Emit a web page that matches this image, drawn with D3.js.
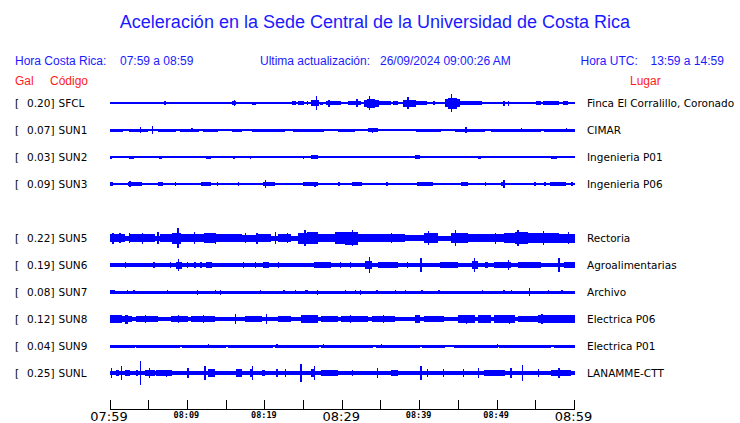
<!DOCTYPE html>
<html><head><meta charset="utf-8">
<script src="https://cdn.jsdelivr.net/npm/d3@7"></script>
<style>body{margin:0;background:#fff}svg{display:block}</style>
</head><body>
<script>
// ---------- DATA ----------
const stations = ["SFCL","SUN1","SUN2","SUN3","SUN5","SUN6","SUN7","SUN8","SUN9","SUNL"];
const rowSlots = ["SFCL","SUN1","SUN2","SUN3","gap","SUN5","SUN6","SUN7","SUN8","SUN9","SUNL"];
const pga = ["0.20","0.07","0.03","0.09","0.22","0.19","0.08","0.12","0.04","0.25"];
const places = ["Finca El Corralillo, Coronado","CIMAR","Ingenieria P01","Ingenieria P06","Rectoria","Agroalimentarias","Archivo","Electrica P06","Electrica P01","LANAMME-CTT"];
// baseline noise half-amplitude (relative units) per station
const baseAmp = [0.7,0.8,0.6,1.3,2.5,1.6,1.5,2.3,0.6,2.0];
// events: [start minute, end minute, half-amplitude]
const sfcl = [[0,0.2,1.3],[3.6,3.6,1.3],[7.0,7.2,1.7],[8.2,8.2,1.0],[9.3,9.3,1.0],[15.7,16.3,2.3],[16.0,16.1,2.8],[18.4,18.8,1.5],[21.7,21.7,1.0],[22.9,22.9,1.2],[23.5,24.0,1.6],[24.3,25.0,1.6],[25.4,25.4,2.2],[26.0,27.0,3.0],[26.6,26.7,7.0],[27.1,27.5,1.5],[27.9,29.9,2.0],[28.2,28.3,3.5],[30.8,32.4,2.0],[31.8,32.0,4.0],[32.8,34.8,3.5],[33.2,34.2,4.5],[33.4,33.5,6.7],[34.8,36.3,1.6],[36.6,37.2,2.3],[37.8,39.5,3.5],[38.4,38.5,6.3],[39.5,41.0,2.0],[41.7,42.0,1.6],[43.3,45.2,4.0],[43.6,44.8,5.5],[44.0,44.2,9.0],[45.2,48.0,1.6],[49.3,49.3,1.2],[50.6,51.6,1.4],[50.8,50.8,2.5],[51.4,51.4,2.5],[52.4,52.4,1.2],[55.0,55.7,2.0],[55.9,58.0,1.6],[58.5,59.2,2.0]];
const sun1 = [[0,1.7,1.5],[2.4,4.9,1.5],[3.9,3.9,2.7],[5.4,5.5,3.7],[6.2,8.5,1.5],[9.0,11.5,1.5],[12.0,14.0,1.5],[10.5,10.5,2.2],[15.7,17.0,1.5],[18.3,22.6,1.5],[23.7,27.7,1.5],[29.5,31.6,1.5],[33.3,34.6,1.6],[33.8,33.8,2.5],[37.6,39.0,1.4],[39.5,42.8,1.5],[44.5,48.4,1.5],[45.9,45.9,2.7],[49.2,55.7,1.5],[53.1,53.1,2.2],[56.1,60,1.5],[58.9,58.9,2.2]];
const sun2 = [[0,0.2,1.5],[1.1,1.1,1.2],[2.5,3.1,1.5],[4.5,4.5,1.2],[5.6,5.8,1.3],[6.3,6.7,1.5],[9.2,9.2,1.2],[10.5,10.5,1.2],[11.8,12.1,1.3],[12.4,13.0,1.5],[15.9,16.1,1.5],[16.6,17.0,1.3],[18.1,18.1,1.5],[19.7,20.0,1.3],[20.5,21.3,1.3],[24.9,24.9,1.5],[26.0,26.9,1.6],[28.6,28.6,1.2],[31.4,31.4,1.2],[35.0,35.0,1.0],[38.6,38.6,1.2],[39.4,40.0,1.6],[44.4,44.4,1.2],[45.7,45.7,1.3],[46.7,46.7,1.2],[47.5,47.9,1.5],[48.5,49.0,1.3],[49.6,50.1,1.3],[51.9,51.9,1.2],[53.3,53.3,1.2],[54.6,54.6,1.2],[56.1,56.3,1.3],[56.9,57.8,1.5],[58.4,58.4,1.2]];
const sun3 = [[0,0.4,2.3],[2.3,4.1,2.0],[2.5,2.5,3.3],[6.2,6.9,2.3],[8.4,8.4,2.0],[11.8,13.1,2.0],[13.8,13.8,2.0],[16.5,16.5,2.0],[19.8,21.3,2.0],[20.0,20.1,3.7],[24.9,26.9,2.0],[26.4,26.5,2.5],[29.5,29.5,2.0],[31.2,32.5,2.0],[35.7,35.7,2.0],[39.6,41.7,2.0],[40.1,40.4,2.4],[45.4,46.2,2.3],[48.4,48.4,2.0],[50.5,51.0,2.2],[50.8,50.8,4.0],[54.8,54.8,2.0],[56.1,56.1,2.0],[56.8,58.9,2.3],[59.6,59.6,2.0]];
const sun5 = [[0,1.9,4.0],[0.3,0.3,5.5],[1.2,1.2,5.0],[2.6,4.0,3.6],[2.4,2.4,5.0],[4.0,5.8,3.9],[4.1,4.1,5.5],[6.1,6.1,6.0],[6.5,8.0,3.8],[8.0,9.2,5.5],[8.7,8.8,9.7],[9.2,10.5,4.3],[10.5,12.2,3.9],[10.8,10.8,6.0],[12.2,13.5,5.0],[13.5,13.5,5.5],[13.5,15.5,3.7],[15.5,17.0,4.2],[17.4,17.4,5.0],[17.0,19.0,3.5],[18.9,18.9,5.5],[19.0,20.8,4.0],[21.3,21.3,6.0],[21.7,23.4,4.0],[22.8,22.8,5.0],[24.3,25.5,5.5],[25.1,25.2,8.0],[25.5,26.9,6.0],[26.9,29.0,4.3],[29.0,30.4,5.8],[30.4,32.0,6.5],[31.2,31.3,8.0],[32.0,34.0,3.7],[34.0,36.0,4.2],[36.3,36.3,5.0],[36.0,38.1,3.6],[38.1,40.6,3.3],[40.6,42.4,5.0],[41.1,41.1,6.7],[42.4,44.1,2.3],[44.1,46.2,4.6],[44.5,44.6,7.7],[46.2,48.5,4.3],[48.5,50.9,3.8],[49.7,49.7,5.5],[50.9,52.3,4.8],[52.3,54.0,5.7],[52.6,52.7,7.7],[54.0,56.0,4.6],[55.9,55.9,6.7],[56.0,58.0,5.0],[58.0,60,4.5],[59.1,59.1,6.0]];
const sun6 = [[1.9,1.9,3.0],[5.6,5.6,3.0],[7.7,7.7,3.0],[8.5,9.3,3.5],[8.8,8.9,6.3],[9.9,10.1,2.8],[10.9,10.9,3.0],[11.6,11.9,3.0],[12.4,13.2,3.0],[17.2,17.2,3.0],[18.7,18.7,3.0],[19.8,20.6,3.0],[21.7,21.7,3.0],[26.4,28.6,2.8],[29.7,29.7,3.0],[31.0,31.0,3.0],[32.9,33.8,4.0],[33.4,33.5,8.0],[34.6,37.2,2.8],[38.3,38.3,3.0],[40.1,40.1,7.0],[42.6,45.0,3.2],[46.7,47.5,4.0],[47.0,47.1,6.7],[48.4,48.8,3.0],[49.6,51.8,3.2],[51.4,51.4,5.0],[52.7,55.7,3.0],[57.9,57.9,7.3],[58.7,60,3.0]];
const sun7 = [[0,0.6,2.0],[2.2,2.2,2.3],[3.0,3.0,2.3],[7.3,7.3,2.3],[11.2,11.2,2.5],[13.5,13.5,2.3],[14.2,14.4,2.5],[19.4,19.4,2.0],[22.4,22.4,2.0],[23.9,23.9,2.3],[25.2,25.6,2.3],[26.7,26.7,2.5],[30.3,30.3,2.3],[31.6,31.6,2.0],[32.3,32.3,2.5],[34.4,34.4,2.3],[36.8,36.8,2.0],[38.1,38.1,2.3],[40.2,40.2,2.0],[42.4,42.4,2.3],[48.0,48.0,2.0],[50.8,50.8,2.3],[51.8,51.8,2.3],[54.1,54.2,3.7],[56.6,56.6,2.3],[58.3,58.3,2.0]];
const sun8 = [[0,1.5,3.7],[1.5,2.8,3.3],[2.0,2.3,4.5],[3.4,6.2,3.3],[4.5,4.5,4.3],[7.9,10.1,3.3],[8.8,8.8,4.3],[10.5,13.5,3.0],[12.0,12.0,4.0],[16.1,16.1,5.0],[17.4,19.6,3.3],[20.1,20.1,5.3],[21.7,23.4,3.3],[24.7,26.9,3.6],[25.8,26.2,4.3],[27.3,29.5,3.3],[29.9,33.3,3.3],[31.0,31.0,4.3],[33.8,36.8,3.3],[35.2,35.2,4.0],[39.4,40.0,4.0],[40.6,43.2,3.0],[44.9,47.1,3.7],[46.0,46.0,4.5],[47.5,49.2,3.7],[49.6,52.3,3.7],[51.5,51.5,4.5],[52.7,55.3,3.3],[55.3,60,3.8],[55.7,55.7,5.0],[57.5,58.5,4.3]];
const sun9 = [[0,3.2,1.5],[3.4,9.0,1.5],[9.3,15.0,1.5],[15.3,21.0,1.5],[21.3,27.0,1.5],[27.3,34.0,1.5],[34.3,40.0,1.5],[40.3,43.3,1.5],[44.4,50.0,1.5],[50.3,57.0,1.5],[57.3,60,1.5],[12.6,12.8,2.0],[21.5,21.7,1.8],[27.5,27.5,1.8],[35.0,35.0,1.8],[50.0,50.0,1.8]];
const sunl = [[0.1,0.1,5.0],[0.8,1.2,2.7],[1.4,1.4,6.7],[2.0,2.6,2.7],[3.4,3.6,3.0],[3.9,3.9,11.7],[4.5,5.8,3.0],[5.0,5.0,5.0],[6.0,8.0,2.8],[7.2,7.2,3.5],[10.0,10.0,5.3],[12.2,12.2,6.7],[12.7,13.6,3.7],[16.3,17.0,3.7],[18.1,18.5,4.0],[18.3,18.3,6.7],[19.6,20.0,3.0],[21.5,21.5,4.0],[22.6,22.6,4.0],[24.6,24.6,9.0],[26.0,26.5,4.0],[26.3,26.3,6.7],[27.3,29.5,3.0],[31.2,31.2,3.0],[34.5,34.5,4.7],[36.3,37.2,3.3],[40.0,40.2,4.0],[40.1,40.1,6.7],[40.9,40.9,3.7],[43.0,43.0,3.7],[45.6,45.6,3.7],[47.5,47.5,5.3],[48.3,51.0,3.0],[51.7,51.7,5.0],[53.2,53.2,7.7],[55.3,55.3,4.0],[57.0,59.6,3.3],[57.9,57.9,5.0]];
const events = [sfcl,sun1,sun2,sun3,sun5,sun6,sun7,sun8,sun9,sunl];
const tickMinutes = [0,5,10,15,20,25,30,35,40,45,50,55,60];
const tickLabels = ["07:59","","08:09","","08:19","","08:29","","08:39","","08:49","","08:59"];
const majorTicks = ["07:59","08:29","08:59"];

// ---------- DRAW ----------
const W = 740, H = 423;
const blue = "#1a1aff", trace = "#0000ff", red = "#ff1a1a";
const svg = d3.select("body").append("svg").attr("width", W).attr("height", H);

const x = d3.scaleLinear().domain([0, 60]).range([110, 574.5]);
const rowY = d3.scalePoint().domain(rowSlots).range([103, 373]);
const amp = d3.scaleLinear().domain([0, 10]).range([0, 10]);

svg.append("text").attr("x", 375).attr("y", 28).attr("text-anchor", "middle")
  .attr("font-family", "Liberation Sans, Arial, sans-serif").attr("font-size", 18)
  .attr("fill", blue).text("Aceleración en la Sede Central de la Universidad de Costa Rica");

const hdr = [["Hora Costa Rica:",15],["07:59 a 08:59",120],["Ultima actualización:",260],["26/09/2024 09:00:26 AM",380],["Hora UTC:",580.5],["13:59 a 14:59",650.5]];
svg.selectAll("text.hdr").data(hdr).join("text").attr("class","hdr")
  .attr("x", d => d[1]).attr("y", 65).attr("font-family","Liberation Sans, Arial, sans-serif")
  .attr("font-size", 12).attr("fill", blue).text(d => d[0]);
const hdr2 = [["Gal",15],["Código",50],["Lugar",630]];
svg.selectAll("text.hdr2").data(hdr2).join("text").attr("class","hdr2")
  .attr("x", d => d[1]).attr("y", 84.5).attr("font-family","Liberation Sans, Arial, sans-serif")
  .attr("font-size", 12).attr("fill", red).text(d => d[0]);

const lab = "DejaVu Sans, sans-serif";
const fs = 10.5;
stations.forEach((s, i) => {
  const cy = rowY(s);
  const g = svg.append("g").attr("shape-rendering", "crispEdges");
  g.append("text").attr("x", 15).attr("y", cy + 4).attr("font-family", lab).attr("font-size", fs).attr("fill","#000").text("[");
  g.append("text").attr("x", 54.5).attr("y", cy + 4).attr("text-anchor","end").attr("font-family", lab).attr("font-size", fs).attr("fill","#000").text(pga[i] + "]");
  g.append("text").attr("x", 58.5).attr("y", cy + 4).attr("font-family", lab).attr("font-size", fs).attr("fill","#000").text(s);
  g.append("text").attr("x", 587).attr("y", cy + 4).attr("font-family", lab).attr("font-size", fs).attr("fill","#000").text(places[i]);
  // baseline band
  g.append("rect").attr("x", x(0)).attr("width", x(60) - x(0))
    .attr("y", cy - amp(baseAmp[i])).attr("height", Math.max(1, 2 * amp(baseAmp[i]))).attr("fill", trace);
  g.selectAll("rect.ev").data(events[i]).join("rect").attr("class","ev")
    .attr("x", d => x(d[0]))
    .attr("width", d => Math.max(1.3, x(d[1]) - x(d[0])))
    .attr("y", d => cy - amp(d[2]))
    .attr("height", d => 2 * amp(d[2]))
    .attr("fill", trace);
});

// time axis
const axisY = 409;
const ax = svg.append("g").attr("shape-rendering","crispEdges");
ax.append("line").attr("x1", x(0)).attr("x2", x(60)).attr("y1", axisY).attr("y2", axisY).attr("stroke","#000");
ax.selectAll("line.tk").data(tickMinutes).join("line").attr("class","tk")
  .attr("x1", d => x(d)).attr("x2", d => x(d)).attr("y1", axisY).attr("y2", axisY - 9).attr("stroke","#000");
ax.selectAll("text.tl").data(tickMinutes).join("text").attr("class","tl")
  .attr("x", d => x(d) - 1).attr("text-anchor","middle")
  .attr("y", (d, i) => majorTicks.includes(tickLabels[i]) ? 421 : 418)
  .attr("font-family", (d, i) => majorTicks.includes(tickLabels[i]) ? lab : "DejaVu Sans Mono, monospace")
  .attr("font-weight", (d, i) => majorTicks.includes(tickLabels[i]) ? "normal" : "bold")
  .attr("font-size", (d, i) => majorTicks.includes(tickLabels[i]) ? 13 : 8.5)
  .attr("fill","#000").text((d, i) => tickLabels[i]);
</script>
</body></html>
